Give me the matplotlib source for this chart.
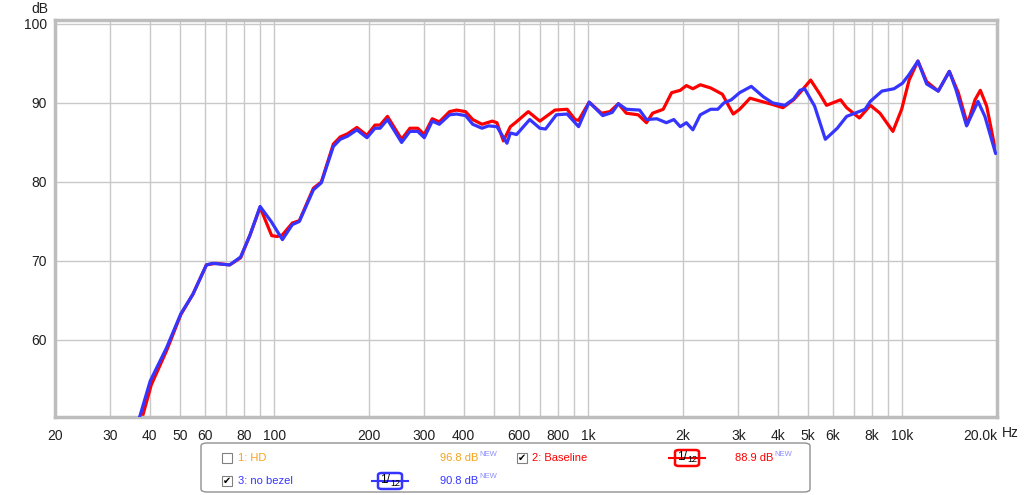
import matplotlib.pyplot as plt
from matplotlib.patches import FancyBboxPatch, Rectangle
from matplotlib.lines import Line2D

plt.rcParams['font.family'] = ['Liberation Sans', 'DejaVu Sans']

# Baseline (red)
red_f = [35, 37.8, 40.5, 45.5, 50.3, 55, 60.7, 65, 72, 78, 83.6, 90, 95, 98, 102, 106,
         114, 120, 133, 141, 154, 162, 171, 183, 197, 209, 217, 229, 254, 270, 286, 300,
         318, 335, 361, 380, 406, 428, 458, 494, 511, 536, 564, 585, 643, 700, 782, 855,
         906, 930, 1005, 1100, 1170, 1245, 1320, 1440, 1530, 1600, 1730, 1840, 1960, 2050,
         2150, 2270, 2450, 2670, 2780, 2890, 3030, 3270, 3550, 3860, 4160, 4500, 4716,
         5100, 5460, 5730, 6350, 6640, 7290, 7900, 8480, 9320, 9940, 10500, 11200, 11940,
         13000, 14100, 15060, 16100, 17020, 17700, 18540, 19800]
red_db = [47.5, 50.0, 54.3, 58.8, 63.2, 65.8, 69.5, 69.7, 69.5, 70.4, 73.3, 76.8, 74.5,
          73.2, 73.1, 73.3, 74.8, 75.1, 79.2, 80.0, 84.8, 85.7, 86.1, 86.9, 85.9, 87.2,
          87.2, 88.3, 85.4, 86.8, 86.8, 86.0, 88.0, 87.6, 88.9, 89.1, 88.9, 87.9, 87.3,
          87.7, 87.5, 85.2, 87.0, 87.5, 88.9, 87.7, 89.1, 89.2, 87.9, 87.8, 90.1, 88.7,
          88.9, 89.9, 88.7, 88.5, 87.5, 88.7, 89.2, 91.3, 91.6, 92.2, 91.8, 92.3, 91.9,
          91.1, 89.8, 88.6, 89.2, 90.6, 90.2, 89.8, 89.4, 90.4, 91.3, 92.9, 91.1, 89.7,
          90.4, 89.4, 88.1, 89.7, 88.7, 86.4, 89.2, 92.9, 95.3, 92.7, 91.5, 94.0, 91.3,
          87.3, 90.4, 91.6, 89.6, 83.9]

# no bezel (blue)
blue_f = [35, 37.3, 40.2, 45.3, 50.3, 55, 60.7, 63.5, 72, 78, 83.6, 90, 97.6, 106, 114,
          120, 133, 141, 154, 162, 171, 183, 197, 209, 217, 229, 254, 270, 286, 300, 318,
          335, 361, 380, 406, 428, 458, 480, 511, 550, 564, 590, 650, 700, 730, 790, 855,
          930, 1005, 1110, 1190, 1245, 1320, 1455, 1530, 1650, 1770, 1870, 1960, 2050,
          2150, 2270, 2450, 2580, 2700, 2850, 3030, 3300, 3600, 3860, 4220, 4500, 4716,
          4880, 5250, 5680, 6200, 6640, 7600, 7900, 8600, 9400, 10000, 10500, 11200,
          11940, 13000, 14100, 14800, 16000, 17400, 18300, 19800]
blue_db = [47.8, 50.4, 54.8, 59.0, 63.3, 65.8, 69.5, 69.7, 69.5, 70.5, 73.3, 76.9, 75.0,
           72.7, 74.6, 75.0, 79.0, 79.9, 84.5, 85.4, 85.8, 86.6, 85.6, 86.8, 86.8, 87.9,
           85.0, 86.4, 86.4, 85.6, 87.7, 87.3, 88.5, 88.6, 88.4, 87.3, 86.8, 87.1, 87.0,
           84.9, 86.2, 86.0, 87.9, 86.8, 86.7, 88.5, 88.6, 87.0, 90.1, 88.4, 88.8, 89.9,
           89.2, 89.1, 87.9, 88.0, 87.5, 87.9, 87.0, 87.5, 86.6, 88.5, 89.2, 89.2, 90.0,
           90.4, 91.3, 92.1, 90.8, 90.0, 89.7, 90.5, 91.6, 91.8, 89.6, 85.4, 86.8, 88.3,
           89.2, 90.2, 91.5, 91.8, 92.5, 93.6, 95.3, 92.4, 91.5, 94.0, 91.7, 87.1, 90.2,
           88.3, 83.6]

grid_f = [30, 40, 50, 60, 70, 80, 90, 100, 200, 300, 400, 500, 600, 700, 800, 900,
          1000, 2000, 3000, 4000, 5000, 6000, 7000, 8000, 9000, 10000]
xtick_f = [20, 30, 40, 50, 60, 80, 100, 200, 300, 400, 600, 800, 1000, 2000, 3000,
           4000, 5000, 6000, 8000, 10000, 20000]
xtick_lbl = ['20', '30', '40', '50', '60', '80', '100', '200', '300', '400', '600', '800',
             '1k', '2k', '3k', '4k', '5k', '6k', '8k', '10k', '20.0k']
ytick_db = [60, 70, 80, 90, 100]

W, H = 1024, 495
fig = plt.figure(figsize=(W / 100, H / 100), dpi=100)
ax = fig.add_axes([55 / W, 1 - 417 / H, (997 - 55) / W, (417 - 20) / H])

for f in grid_f:
    ax.axvline(f, color='#c8c8c8', lw=1, zorder=0)
for d in ytick_db:
    ax.axhline(d, color='#c8c8c8', lw=1, zorder=0)

ax.plot(red_f, red_db, color='#ff0000', lw=2.3, zorder=2,
        solid_joinstyle='round', solid_capstyle='round')
ax.plot(blue_f, blue_db, color='#3535ff', lw=2.3, zorder=3,
        solid_joinstyle='round', solid_capstyle='round')

ax.set_xscale('log')
ax.set_xlim(20, 20000)
ax.set_ylim(50.25, 100.5)
ax.set_xticks(xtick_f)
ax.set_xticklabels(xtick_lbl)
ax.xaxis.set_minor_locator(plt.NullLocator())
ax.set_yticks(ytick_db)
ax.tick_params(length=0, labelsize=10, colors='#202020')
ax.tick_params(axis='x', pad=9)
ax.tick_params(axis='y', pad=6)
ax.get_xticklabels()[-1].set_horizontalalignment('right')
for s in ax.spines.values():
    s.set_color('#bdbdbd')
    s.set_linewidth(2.5)

fig.text(40 / W, 1 - 9 / H, 'dB', fontsize=10, ha='center', va='center', color='#202020')
fig.text(1002 / W, 1 - 433 / H, 'Hz', fontsize=10, ha='left', va='center', color='#202020')


# legend panel
def fx(px):
    return px / W


def fy(py):
    return 1 - py / H


fig.patches.append(FancyBboxPatch((fx(201), fy(492)), fx(810) - fx(201), fy(443) - fy(492),
                                  boxstyle='round,pad=0,rounding_size=0.006',
                                  transform=fig.transFigure, fc='white', ec='#909090', lw=1))

orange = '#f7a21b'
red = '#ff0000'
blue = '#3535ff'
newc = '#8c8cff'


def checkbox(px, py, checked):
    fig.patches.append(Rectangle((fx(px - 5), fy(py + 5)), 10 / W, 10 / H,
                                 transform=fig.transFigure, fc='white', ec='#808080', lw=0.8))
    if checked:
        fig.text(fx(px), fy(py), '\u2714', fontsize=7, ha='center', va='center',
                 family='DejaVu Sans', color='black')


def level(px, py, txt, color):
    t = fig.text(fx(px), fy(py), txt, fontsize=8, ha='left', va='center', color=color)
    fig.text(fx(px + 39), fy(py - 4), 'NEW', fontsize=5.5, ha='left', va='center', color=newc)
    return t


def smoothing(px, py, color):
    fig.lines.append(Line2D([fx(px - 18), fx(px + 18)], [fy(py), fy(py)],
                            transform=fig.transFigure, color=color, lw=1.5))
    fig.patches.append(FancyBboxPatch((fx(px - 12), fy(py + 8)), 24 / W, 16 / H,
                                      boxstyle='round,pad=0,rounding_size=0.004',
                                      transform=fig.transFigure, fc='white', ec=color, lw=1.8))
    fig.text(fx(px), fy(py - 1), '1/', fontsize=8.5, ha='right', va='center',
             color='black')
    fig.text(fx(px), fy(py + 2), '12', fontsize=6.5, ha='left', va='center',
             color='black')


checkbox(227, 458, False)
fig.text(fx(238), fy(458), '1: HD', fontsize=8, va='center', color=orange)
level(440, 458, '96.8 dB', orange)
checkbox(522, 458, True)
fig.text(fx(532), fy(458), '2: Baseline', fontsize=8, va='center', color=red)
smoothing(687, 458, red)
level(735, 458, '88.9 dB', red)
checkbox(227, 481, True)
fig.text(fx(238), fy(481), '3: no bezel', fontsize=8, va='center', color=blue)
smoothing(390, 481, blue)
level(440, 481, '90.8 dB', blue)

fig.savefig('out.png', dpi=100)
